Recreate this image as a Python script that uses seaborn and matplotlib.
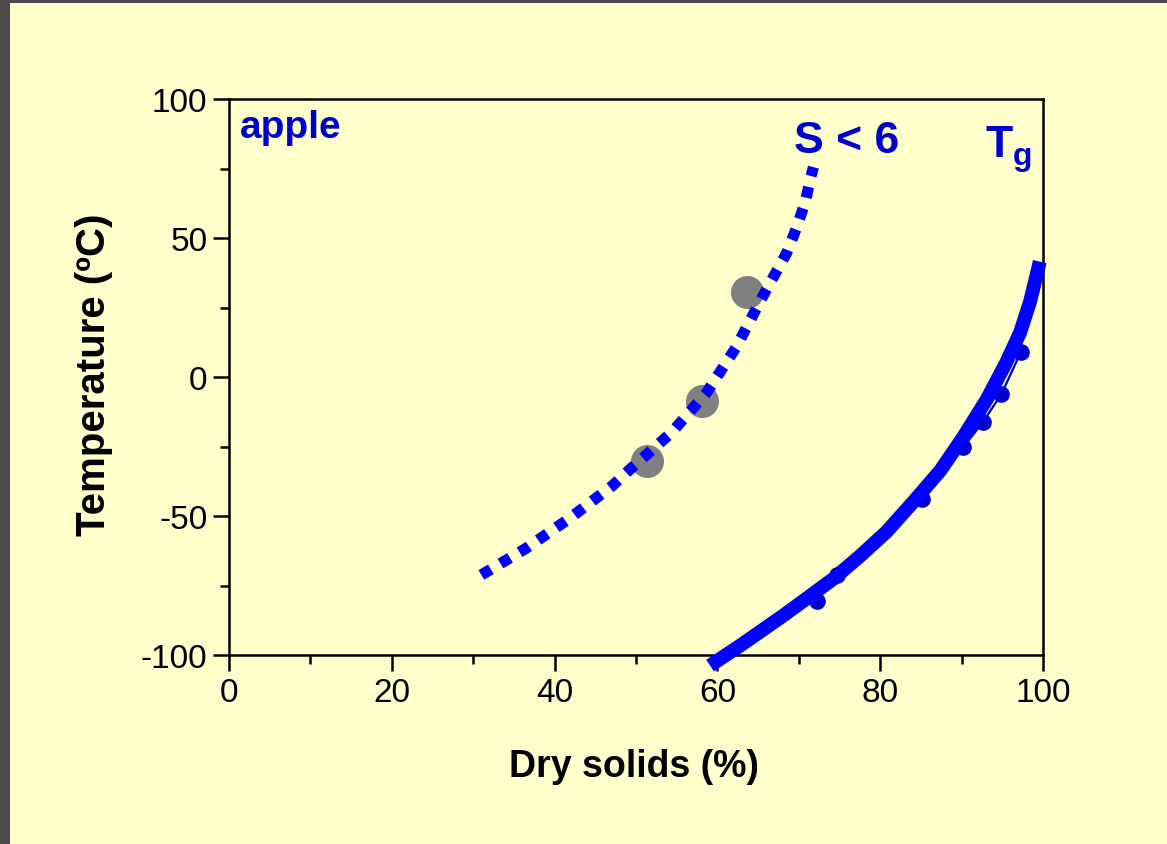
import matplotlib
matplotlib.use("Agg")
import matplotlib.pyplot as plt
from matplotlib.patches import Rectangle
from matplotlib.ticker import MultipleLocator
import pandas as pd
import seaborn as sns

# Apple state diagram: stability boundary (S < 6), glass transition curve (Tg)
s6_solids = [31.0, 36.5, 41.9, 47.1, 49.3, 54.4, 58.7, 62.3, 65.4, 68.5, 69.7, 70.8, 71.5, 71.8]
s6_temp = [-71.2, -61.6, -50.7, -39.1, -33.1, -19.9, -5.5, 10.7, 28.1, 44.6, 53.5, 63.1, 72.2, 75.5]

tg_solids = [59.1, 62.8, 68.1, 74.2, 77.6, 80.8, 84.1, 87.4, 90.2, 93.1, 95.5, 97.2, 98.4, 99.2, 99.6]
tg_temp = [-103.8, -96.6, -85.8, -72.7, -64.2, -55.6, -44.8, -33.6, -21.6, -8.0, 5.3, 16.1, 27.0, 36.5, 41.5]

tg_meas_solids = [72.2, 74.7, 85.1, 90.2, 92.6, 94.9, 97.3]
tg_meas_temp = [-80.4, -71.2, -43.9, -25.3, -16.3, -6.1, 9.1]

s6_meas_solids = [51.4, 58.1, 63.6]
s6_meas_temp = [-30.1, -8.5, 30.7]

x_ticks = [0, 20, 40, 60, 80, 100]
y_ticks = [-100, -50, 0, 50, 100]

s6_df = pd.DataFrame({"solids": s6_solids, "temp": s6_temp})
tg_df = pd.DataFrame({"solids": tg_solids, "temp": tg_temp})
tg_meas_df = pd.DataFrame({"solids": tg_meas_solids, "temp": tg_meas_temp})
s6_meas_df = pd.DataFrame({"solids": s6_meas_solids, "temp": s6_meas_temp})

sns.set_style("ticks")
plt.rcParams["font.family"] = ["Liberation Sans", "DejaVu Sans"]
plt.rcParams["axes.unicode_minus"] = False

BG = "#FFFFCC"
LABEL_BLUE = "#0000CC"
LINE_BLUE = "#0000FF"

fig = plt.figure(figsize=(11.67, 8.45), dpi=100, facecolor=BG)
ax = fig.add_axes([229 / 1167, 1 - 656 / 845, (1043 - 229) / 1167, (656 - 100) / 845])
ax.set_facecolor(BG)

# measured points for the S < 6 boundary
sns.scatterplot(data=s6_meas_df, x="solids", y="temp", ax=ax, s=33 ** 2 * 0.52,
                color="#808080", linewidth=0, zorder=2, legend=False)

# S < 6 boundary (dotted)
sns.lineplot(data=s6_df, x="solids", y="temp", ax=ax, sort=False, estimator=None,
             color=LINE_BLUE, lw=8, zorder=3, legend=False)
s6_line = ax.lines[-1]
s6_line.set_linestyle((0, (1.0, 1.0)))
s6_line.set_dash_capstyle("butt")

# measured glass transition points
sns.lineplot(data=tg_meas_df, x="solids", y="temp", ax=ax, sort=False, estimator=None,
             color=LABEL_BLUE, lw=1.6, marker="o", markersize=12, markeredgewidth=0,
             zorder=2, legend=False)

# fitted glass transition curve
sns.lineplot(data=tg_df, x="solids", y="temp", ax=ax, sort=False, estimator=None,
             color=LINE_BLUE, lw=10, zorder=4, legend=False, clip_on=False)
ax.lines[-1].set_solid_capstyle("butt")
ax.lines[-1].set_solid_joinstyle("round")

ax.set_xlim(0, 100)
ax.set_ylim(-100, 100)
ax.set_xticks(x_ticks)
ax.set_yticks(y_ticks)
ax.xaxis.set_minor_locator(MultipleLocator(10))
ax.yaxis.set_minor_locator(MultipleLocator(25))
ax.tick_params(which="major", direction="out", length=11.5, width=1.8,
               labelsize=24, pad=4, color="black", labelcolor="black")
ax.tick_params(which="minor", direction="out", length=6.5, width=1.8, color="black")
ax.tick_params(top=False, right=False, which="both")
for sp in ax.spines.values():
    sp.set_visible(True)
    sp.set_color("black")
    sp.set_linewidth(1.8)

ax.set_xlabel("Dry solids (%)", fontsize=27, fontweight="bold", color="black")
ax.set_ylabel("Temperature (ºC)", fontsize=29, fontweight="bold", color="black")
ax.xaxis.set_label_coords(0.4975, -0.167)
ax.yaxis.set_label_coords(-0.1425, 0.505)

ax.text(1.35, 86.3, "apple", fontsize=28, fontweight="bold", color=LABEL_BLUE,
        ha="left", va="baseline")
ax.text(69.4, 80.9, "S < 6", fontsize=32, fontweight="bold", color=LABEL_BLUE,
        ha="left", va="baseline")
ax.text(92.9, 79.5, "T", fontsize=32, fontweight="bold", color=LABEL_BLUE,
        ha="left", va="baseline")
ax.text(96.3, 76.6, "g", fontsize=23, fontweight="bold", color=LABEL_BLUE,
        ha="left", va="baseline")

# frame strips along the left and top edges
fig.add_artist(Rectangle((0, 0), 10 / 1167, 1, transform=fig.transFigure,
                         facecolor="#4b4b4b", edgecolor="none"))
fig.add_artist(Rectangle((0, 1 - 4 / 845), 1, 4 / 845, transform=fig.transFigure,
                         facecolor="#4b4b4b", edgecolor="none"))

fig.savefig("out.png", dpi=100, facecolor=BG)
